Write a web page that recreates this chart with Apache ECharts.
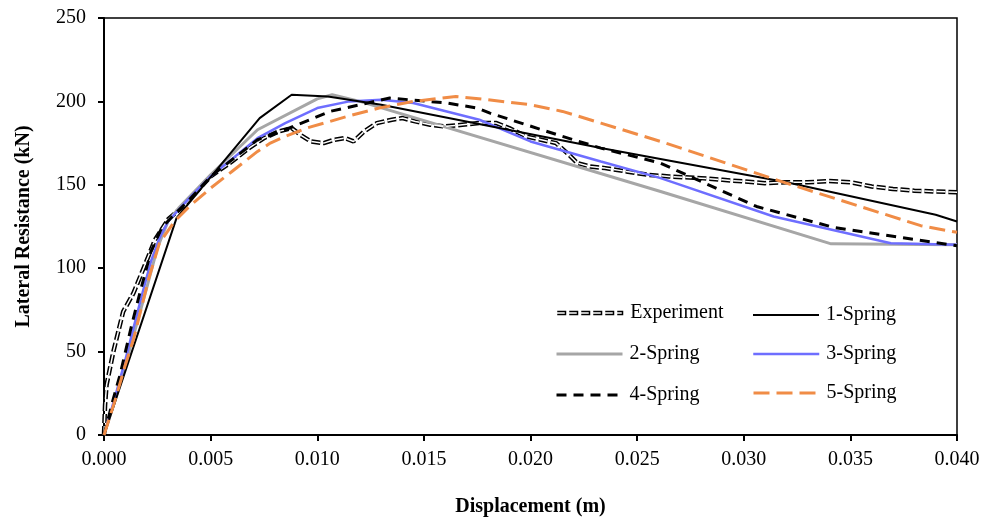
<!DOCTYPE html>
<html>
<head>
<meta charset="utf-8">
<script src="https://cdn.jsdelivr.net/npm/echarts@6/dist/echarts.min.js"></script>
<style>
html,body{margin:0;padding:0;background:#fff;}
#chart{width:984px;height:522px;}
</style>
</head>
<body>
<div id="chart"></div>
<script>
// Displacement (m), Lateral Resistance (kN)
const experiment = [[0,0],[0.00005,18],[0.00012,30],[0.00044,50],[0.00067,62],[0.0009,74],[0.00138,85],[0.00192,102],[0.00239,117],[0.00302,129.5],[0.0037,137],[0.005,155],[0.006,164],[0.0068,172],[0.0075,178],[0.0082,182],[0.0088,184],[0.0092,180],[0.0097,176],[0.0103,175],[0.0108,177],[0.0113,178],[0.0117,176],[0.0122,182],[0.0128,187],[0.0135,189],[0.014,190],[0.0146,188],[0.0153,186],[0.016,185],[0.0168,186],[0.0176,187],[0.0184,187],[0.019,184],[0.0198,179],[0.0205,177],[0.0212,175],[0.0218,168],[0.0222,163],[0.0228,161],[0.0235,160],[0.0245,158],[0.0255,156],[0.0265,155],[0.028,154],[0.029,153],[0.030,152],[0.031,151],[0.032,151.5],[0.033,151.5],[0.034,152.3],[0.035,151.5],[0.036,149],[0.037,147.5],[0.038,146.5],[0.039,146],[0.040,145.5]];
const spring1 = [[0,0],[0.0034,130],[0.0073,190],[0.0088,204],[0.0105,203],[0.013,198],[0.0233,172],[0.032,151.5],[0.039,132],[0.040,128]];
const spring2 = [[0,0],[0.0005,20],[0.001,42],[0.0015,65],[0.002,88],[0.0025,112],[0.003,128],[0.0035,136],[0.005,156],[0.0072,183],[0.0100,201.5],[0.0107,204],[0.012,200],[0.0261,146],[0.0341,114.6],[0.040,114]];
const spring3 = [[0,0],[0.0005,22],[0.001,45],[0.0014,65],[0.0018,85],[0.0022,104],[0.0026,118],[0.003,128],[0.004,142],[0.005,155],[0.0072,178],[0.0085,187],[0.0100,196],[0.0115,200],[0.013,201],[0.0145,199],[0.0176,189],[0.020,176],[0.0233,164],[0.0261,154],[0.0314,131],[0.0369,115],[0.040,114]];
const spring4 = [[0,0],[0.0004,20],[0.00075,36],[0.0013,66],[0.0017,86],[0.0022,110],[0.0027,124],[0.0032,131],[0.004,141],[0.005,155],[0.0072,177],[0.0085,183],[0.0106,194],[0.0134,202],[0.0161,199],[0.0175,196],[0.0181,193],[0.0215,179],[0.0233,172],[0.0261,163],[0.0306,137],[0.0342,124.5],[0.0389,115.5],[0.040,113.5]];
const spring5 = [[0,0],[0.0005,20],[0.001,42],[0.0014,58],[0.0021,94],[0.0026,115],[0.0033,128],[0.004,137],[0.005,148],[0.006,158],[0.0072,170],[0.0078,175],[0.0085,179],[0.0095,184],[0.0106,188],[0.0114,191],[0.0129,196],[0.0145,200],[0.0165,203],[0.018,201],[0.020,198],[0.0215,194],[0.0233,187],[0.0261,176],[0.032,151],[0.0383,125.5],[0.040,121.5]];
const seriesNames = ['Experiment','1-Spring','2-Spring','3-Spring','4-Spring','5-Spring'];
const xTicks = {min:0, max:0.04, interval:0.005};
const yTicks = {min:0, max:250, interval:50};

const FONT = '"Liberation Serif","Times New Roman",serif';
const chart = echarts.init(document.getElementById('chart'), null, {renderer:'canvas'});

const styles = {
  'Experiment': {color:'#000', width:4.5, type:[9,3]},
  '_exp':       {color:'#fff', width:1.5, type:[9,3]},
  '1-Spring':   {color:'#000', width:2, type:'solid'},
  '2-Spring':   {color:'#A6A6A6', width:3, type:'solid'},
  '3-Spring':   {color:'#6E6EFF', width:2.5, type:'solid'},
  '4-Spring':   {color:'#000', width:3, type:[10,7]},
  '5-Spring':   {color:'#F08C46', width:3, type:[16,7]}
};

function legendAt(name, left, top, fmt, z) {
  return {
    data:[name], left:left, top:top, orient:'horizontal',
    itemWidth:66, itemHeight:14, itemGap:0, padding:0, z:z || 4,
    selectedMode:false,
    itemStyle:{opacity:0},
    lineStyle:styles[name],
    formatter: fmt || (n => n),
    textStyle:{fontFamily:FONT, fontSize:20, color:'#000', padding:[0,0,0,2]}
  };
}
function lineSeries(name, data, z) {
  return {name:name, type:'line', data:data, symbol:'none', z:z,
    itemStyle:{color:styles[name].color}, lineStyle:styles[name]};
}

const option = {
  animation:false,
  backgroundColor:'#fff',
  grid:{left:104, right:27, top:18, bottom:85, show:true, borderColor:'#000', borderWidth:1.5, backgroundColor:'transparent'},
  legend:[
    legendAt('Experiment', 555, 303, null, 4),
    legendAt('_exp', 555, 303, () => ' ', 20),
    legendAt('1-Spring', 752, 305),
    legendAt('2-Spring', 555, 344),
    legendAt('3-Spring', 752, 344),
    legendAt('4-Spring', 555, 385),
    legendAt('5-Spring', 752, 383)
  ],
  xAxis:{
    type:'value', min:xTicks.min, max:xTicks.max, interval:xTicks.interval,
    name:'Displacement (m)', nameLocation:'middle', nameGap:62,
    nameTextStyle:{fontFamily:FONT, fontSize:20, fontWeight:'bold', color:'#000'},
    axisLine:{show:true, lineStyle:{color:'#000', width:2}},
    axisTick:{show:true, inside:false, length:6, lineStyle:{color:'#000', width:2}},
    axisLabel:{fontFamily:FONT, fontSize:20, color:'#000', margin:15, formatter:v => v.toFixed(3)},
    splitLine:{show:false}
  },
  yAxis:{
    type:'value', min:yTicks.min, max:yTicks.max, interval:yTicks.interval,
    name:'Lateral Resistance (kN)', nameLocation:'middle', nameGap:70,
    nameTextStyle:{fontFamily:FONT, fontSize:20, fontWeight:'bold', color:'#000'},
    axisLine:{show:true, lineStyle:{color:'#000', width:2}},
    axisTick:{show:true, inside:false, length:6, lineStyle:{color:'#000', width:2}},
    axisLabel:{fontFamily:FONT, fontSize:20, color:'#000', margin:18},
    splitLine:{show:false}
  },
  series:[
    lineSeries('Experiment', experiment, 2),
    lineSeries('_exp', experiment, 3),
    lineSeries('1-Spring', spring1, 4),
    lineSeries('2-Spring', spring2, 2),
    lineSeries('3-Spring', spring3, 3),
    lineSeries('4-Spring', spring4, 4),
    lineSeries('5-Spring', spring5, 4)
  ]
};
chart.setOption(option);
</script>
</body>
</html>
